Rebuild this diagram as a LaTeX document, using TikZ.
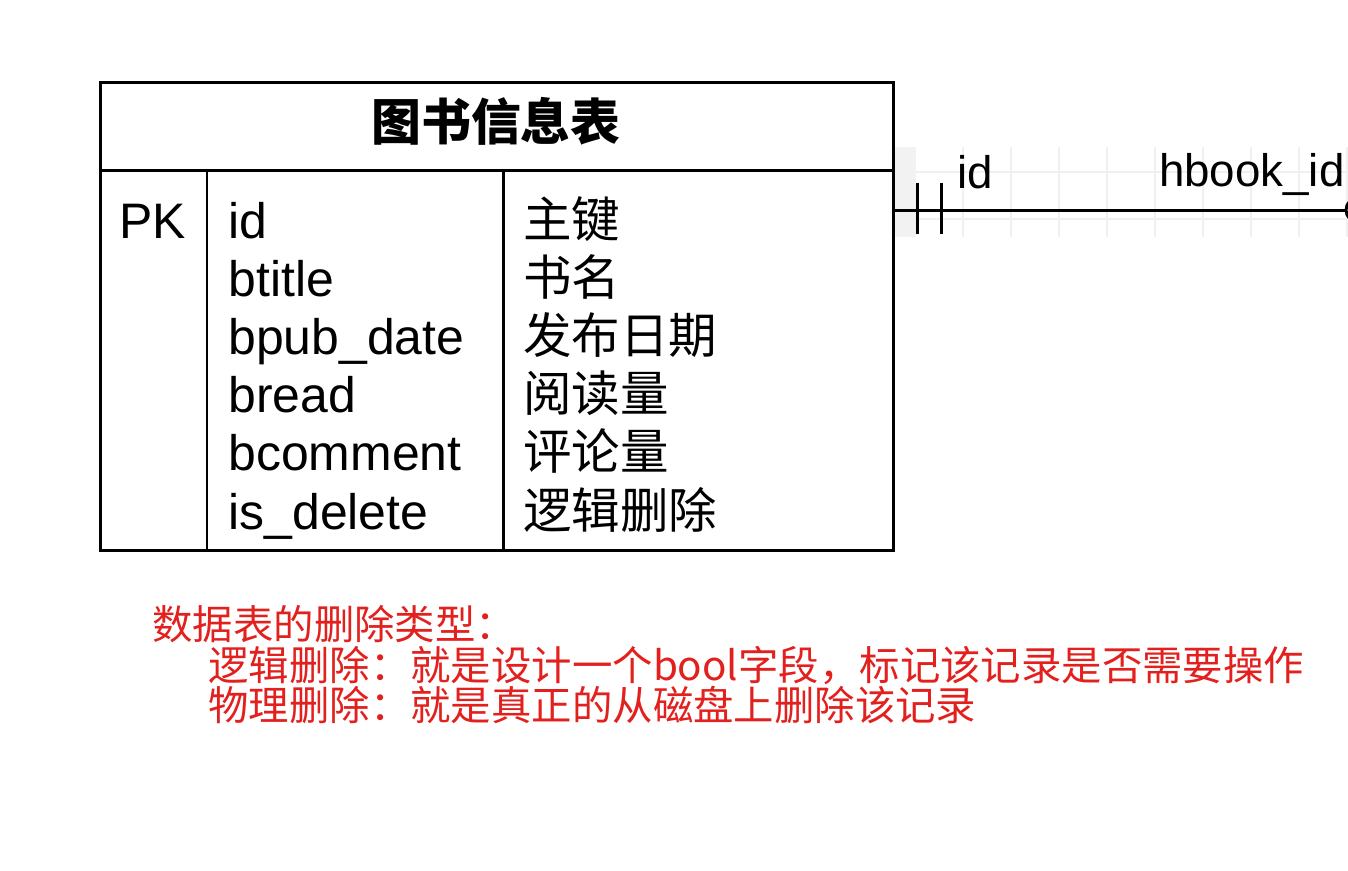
\documentclass[tikz,border=0pt]{standalone}
\usepackage{fontspec}
\setmainfont{Liberation Sans}
\newfontfamily\cjk{Noto Sans CJK SC}
\usepackage{tikz}
\usetikzlibrary{calc}
\definecolor{notered}{RGB}{226,32,30}
\tikzstyle{cell} = [inner sep=0pt,font=\fontsize{28.4}{33}\selectfont]
\tikzstyle{cjkcell} = [inner sep=0pt,font=\cjk\fontsize{27.6}{33}\selectfont]
\tikzstyle{lbl} = [inner sep=0pt,font=\fontsize{26}{30}\selectfont]
\tikzstyle{note} = [inner sep=0pt,text=notered,font=\cjk\fontsize{23}{24}\selectfont]

\begin{document}
\begin{tikzpicture}[x=0.02cm,y=-0.02cm,line width=1.7pt]
\useasboundingbox (0,0) rectangle (1348,870);

% faint grid behind the relation

    \fill[gray!10] (893,147) rectangle (916,237);
    \foreach \gx in {963,1011,...,1348} \draw[gray!12,line width=0.6pt] (\gx,147) -- (\gx,237);
    \foreach \gy in {172,219} \draw[gray!12,line width=0.6pt] (916,\gy) -- (1348,\gy);

% table

    \node[draw,line width=1.7pt,minimum width=793*0.02cm,minimum height=468*0.02cm,anchor=north west] at (99,81) (tbl) {};
    \draw (tbl.west |- 0,170) -- (tbl.east |- 0,170);
    \draw (207,170) -- (207,549);
    \draw (503,170) -- (503,549);
    \node[inner sep=0pt,anchor=base,font=\cjk\bfseries\fontsize{28.4}{33}\selectfont] at (496,140) (title) {图书信息表};
    \node[cell,anchor=base west] at (118,238) (pk) {PK};
    \foreach \f/\c [count=\i from 0] in {id/主键,btitle/书名,bpub\_date/发布日期,bread/阅读量,bcomment/评论量,is\_delete/逻辑删除}{
        \node[cell,anchor=base west] at (227,238+58.2*\i) (fld\i) {\f};
        \node[cjkcell,anchor=base west] at (522,237+58.2*\i) (cmt\i) {\c};
    }

% relation

    \coordinate (relL) at (tbl.east |- 0,210);
    \coordinate (relR) at (1346,210);
    \coordinate (tickA) at (917,210);
    \coordinate (tickB) at (941,210);
    \draw (relL) -- (relR);
    \draw ($(tickA)+(0,-27)$) -- ($(tickA)+(0,24)$);
    \draw ($(tickB)+(0,-27)$) -- ($(tickB)+(0,24)$);
    \draw ($(relR)+(12,0)$) circle (12);
    \node[lbl,anchor=base west] at (956,188) (srcid) {id};
    \node[lbl,anchor=base east] at (1346,186) (dstid) {hbook\_id};

% note

    \node[note,anchor=base west] at (151,639) (note0) {数据表的删除类型：};
    \node[note,anchor=base west] at (207,680) (note1) {逻辑删除：就是设计一个bool字段，标记该记录是否需要操作};
    \node[note,anchor=base west] at (207,720) (note2) {物理删除：就是真正的从磁盘上删除该记录};

\end{tikzpicture}
\end{document}
